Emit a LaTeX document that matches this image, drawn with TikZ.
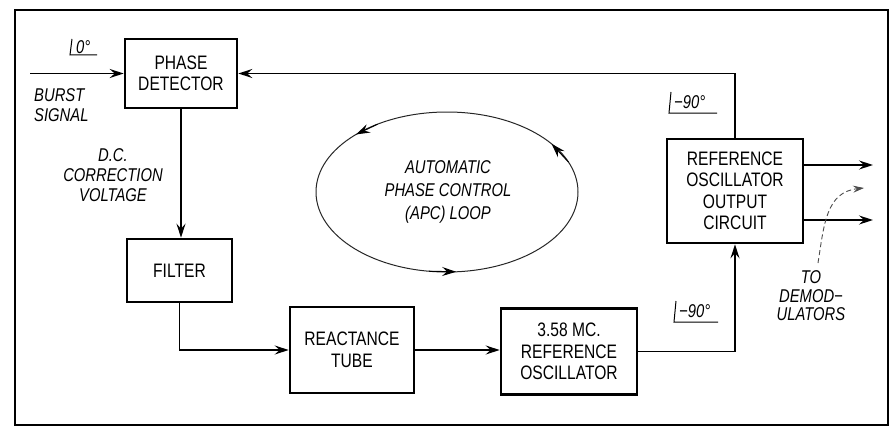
\documentclass[tikz,border=0pt]{standalone}
\usepackage{fontspec}
\setmainfont{Liberation Sans}[FakeStretch=0.8]
\usetikzlibrary{arrows.meta,calc}
\tikzset{
  box/.style={draw, line width=2.6pt, align=center, inner sep=0pt,
    font=\fontsize{19.5}{21.5}\selectfont},
  lab/.style={align=center, inner sep=1pt, font=\fontsize{18.5}{20}\selectfont\itshape},
  conn/.style={line width=1.5pt},
  arr/.style={conn, -{Stealth[length=14pt, width=9pt, inset=5pt]}},
  looparr/.style={line width=1pt, -{Stealth[length=14pt, width=9pt, inset=5pt]}},
  anglemark/.style={line width=1pt},
}
\begin{document}
\begin{tikzpicture}[x=1pt, y=-1pt]
\useasboundingbox (0,0) rectangle (894,428);
\draw[line width=2.6pt] (15,10) rectangle (888,425);

% boxes
\node[box, minimum width=112pt, minimum height=69pt] (pd) at (181,73.5) {PHASE\\DETECTOR};
\node[box, minimum width=105pt, minimum height=63pt] (filt) at (179.5,270.5) {FILTER};
\node[box, minimum width=124pt, minimum height=86pt] (rt) at (352,350) {REACTANCE\\TUBE};
\node[box, minimum width=136pt, minimum height=86pt] (osc) at (569,351.5) {3.58 MC.\\REFERENCE\\OSCILLATOR};
\node[box, minimum width=136pt, minimum height=104pt] (roc) at (735,191) {REFERENCE\\OSCILLATOR\\OUTPUT\\CIRCUIT};

% connectors
\coordinate (bin) at (30,73.5);
\draw[arr] (bin) -- (pd.west);
\draw[arr] (pd.south) -- (pd.south |- filt.north);
\draw[arr] (filt.south) |- (rt.west);
\draw[arr] (rt.east) -- (rt.east -| osc.west);
\draw[arr] (osc.east) -| (roc.south);
\draw[arr] (roc.north) |- (pd.east);
\coordinate (o1) at (873,165);
\coordinate (o2) at (873,220);
\draw[arr] (roc.east |- o1) -- (o1);
\draw[arr] (roc.east |- o2) -- (o2);

% labels
\node[lab, anchor=west, align=left] (burst) at (33,105) {BURST\\SIGNAL};
\node[lab] (dc) at (113,175) {D.C.\\CORRECTION\\VOLTAGE};
\node[lab, font=\fontsize{18.5}{18.5}\selectfont\itshape] (demod) at (811,296) {TO\\DEMOD−\\ULATORS};

% angle marks
\node[lab, anchor=west] (a0) at (75,47) {0°};
\draw[anglemark] (72,39) -- (70,55) -- (97,55);
\node[lab, anchor=west] (a1) at (673,102) {−90°};
\draw[anglemark] (671,92) -- (669,113) -- (717,113);
\node[lab, anchor=west] (a2) at (678,311) {−90°};
\draw[anglemark] (676,301) -- (674,322) -- (718,322);

% APC loop
\coordinate (lc) at (447,192);
\draw[line width=1pt, black!85] (lc) ellipse [x radius=131, y radius=80];
\draw[looparr] ([shift={(lc)}]98:131 and 80) -- ([shift={(lc)}]86:131 and 80);
\draw[looparr] ([shift={(lc)}]-22:131 and 80) -- ([shift={(lc)}]-37:131 and 80);
\draw[looparr] ([shift={(lc)}]-122:131 and 80) -- ([shift={(lc)}]-134:131 and 80);
\node[lab, font=\fontsize{18.5}{23}\selectfont\itshape] (apc) at (448,192) {AUTOMATIC\\PHASE CONTROL\\(APC) LOOP};

% dashed pointer
\coordinate (dp0) at (818,263);
\coordinate (dp1) at (864,188);
\draw[line width=0.9pt, black!70, dash pattern=on 5pt off 3pt, -{Stealth[length=11pt, width=7pt, inset=4pt]}]
  (dp0) .. controls (824,225) and (826,192) .. (dp1);
\end{tikzpicture}
\end{document}
